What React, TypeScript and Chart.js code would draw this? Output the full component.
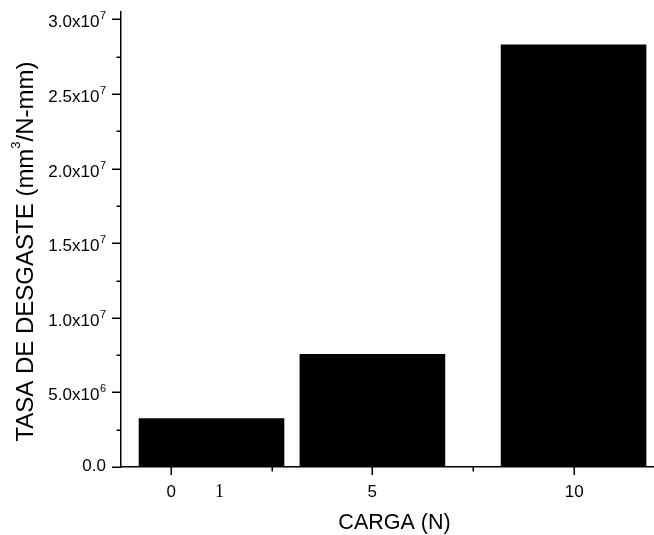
import React, { useEffect, useRef } from "react";
import { Chart, registerables } from "chart.js";

Chart.register(...registerables);

// ---- data ----
const barPositions = [1, 5, 10];
const wearRates = [3.26e6, 7.57e6, 2.832e7];
const xTickValues = [0, 5, 10];
const xMinorTickValues = [2.5, 7.5];
const yTickValues = [0, 5e6, 1e7, 1.5e7, 2e7, 2.5e7, 3e7];
const yMinorTickValues = [2.5e6, 7.5e6, 1.25e7, 1.75e7, 2.25e7, 2.75e7];
const xTitle = "CARGA (N)";
const yTitleParts = ["TASA DE DESGASTE (mm", "3", "/N-mm)"];
const strayLabelText = "1";
const strayLabelX = 1.2;

const SANS = '"Liberation Sans", Arial, sans-serif';
const SERIF = '"Liberation Serif", "Times New Roman", serif';

function splitSci(v: number): [string, string | null] {
  if (v === 0) return ["0.0", null];
  const exp = Math.floor(Math.log10(v) + 1e-9);
  const mant = v / Math.pow(10, exp);
  return [mant.toFixed(1) + "x10", String(exp)];
}

const originAxesPlugin = {
  id: "originAxes",
  afterDraw(chart: any) {
    const { ctx, chartArea } = chart;
    const xs = chart.scales.x;
    const ys = chart.scales.y;
    const left = chartArea.left;
    const bottom = chartArea.bottom;
    ctx.save();
    ctx.strokeStyle = "#000";
    ctx.fillStyle = "#000";
    ctx.lineWidth = 1.5;
    const line = (x1: number, y1: number, x2: number, y2: number) => {
      ctx.beginPath();
      ctx.moveTo(x1, y1);
      ctx.lineTo(x2, y2);
      ctx.stroke();
    };

    // y ticks & labels
    const labelRight = left - 15;
    yTickValues.forEach((v) => {
      const py = Math.round(ys.getPixelForValue(v)) + 0.25;
      line(left - 9, py, left, py);
      const [base, sup] = splitSci(v);
      ctx.textAlign = "right";
      ctx.textBaseline = "alphabetic";
      if (sup) {
        ctx.font = `11px ${SANS}`;
        const supW = ctx.measureText(sup).width;
        ctx.fillText(sup, labelRight, py - 0.5);
        ctx.font = `17px ${SANS}`;
        ctx.fillText(base, labelRight - supW - 0.5, py + 7.5);
      } else {
        ctx.font = `17px ${SANS}`;
        ctx.fillText(base, labelRight, py + 4);
      }
    });
    yMinorTickValues.forEach((v) => {
      const py = Math.round(ys.getPixelForValue(v)) + 0.25;
      line(left - 4.5, py, left, py);
    });

    // x ticks & labels
    xTickValues.forEach((v) => {
      const px = Math.round(xs.getPixelForValue(v)) + 0.25;
      line(px, bottom, px, bottom + 8);
      ctx.font = `17px ${SANS}`;
      ctx.textAlign = "center";
      ctx.textBaseline = "alphabetic";
      ctx.fillText(String(v), px, bottom + 30);
    });
    xMinorTickValues.forEach((v) => {
      const px = Math.round(xs.getPixelForValue(v)) + 0.25;
      line(px, bottom, px, bottom + 4.5);
    });

    // stray label
    ctx.font = `18px ${SERIF}`;
    ctx.textAlign = "center";
    ctx.fillText(strayLabelText, xs.getPixelForValue(strayLabelX), bottom + 30);

    // x title
    ctx.font = `21.5px ${SANS}`;
    ctx.textAlign = "center";
    ctx.fillText(xTitle, (chartArea.left + chartArea.right) / 2 + 7, 528.5);

    // y title (rotated, with superscript)
    ctx.save();
    ctx.translate(33, 251.5);
    ctx.rotate(-Math.PI / 2);
    ctx.textAlign = "left";
    const mainFont = `24px ${SANS}`;
    const supFont = `13px ${SANS}`;
    ctx.font = mainFont;
    const w1 = ctx.measureText(yTitleParts[0]).width;
    const w3 = ctx.measureText(yTitleParts[2]).width;
    ctx.font = supFont;
    const w2 = ctx.measureText(yTitleParts[1]).width;
    const total = w1 + w2 + w3;
    let cx = -total / 2;
    ctx.font = mainFont;
    ctx.fillText(yTitleParts[0], cx, 0);
    cx += w1;
    ctx.font = supFont;
    ctx.fillText(yTitleParts[1], cx, -13);
    cx += w2;
    ctx.font = mainFont;
    ctx.fillText(yTitleParts[2], cx, 0);
    ctx.restore();

    ctx.restore();
  },
};

export default function App() {
  const canvasRef = useRef<HTMLCanvasElement | null>(null);

  useEffect(() => {
    if (!canvasRef.current) return;
    const chart = new Chart(canvasRef.current, {
      type: "bar",
      data: {
        datasets: [
          {
            data: barPositions.map((x, i) => ({ x, y: wearRates[i] })),
            backgroundColor: "#000000",
            borderWidth: 0,
            barPercentage: 0.905,
            categoryPercentage: 1,
          },
        ],
      },
      options: {
        animation: false,
        responsive: false,
        devicePixelRatio: 1,
        layout: { padding: { top: 12, left: 0, right: 0, bottom: 0 } },
        plugins: {
          legend: { display: false },
          tooltip: { enabled: false },
        },
        scales: {
          x: {
            type: "linear",
            offset: false,
            min: -1.25,
            max: 12,
            afterBuildTicks: (scale: any) => {
              scale.ticks = xTickValues.map((v) => ({ value: v }));
            },
            afterFit: (scale: any) => {
              scale.height = 68;
            },
            grid: { display: false },
            border: { display: true, color: "#000", width: 1.5 },
            ticks: { display: false },
          },
          y: {
            type: "linear",
            min: 0,
            max: 3.05e7,
            afterFit: (scale: any) => {
              scale.width = 121;
            },
            grid: { display: false },
            border: { display: true, color: "#000", width: 1.5 },
            ticks: { display: false },
          },
        },
      },
      plugins: [originAxesPlugin],
    } as any);
    return () => chart.destroy();
  }, []);

  return (
    <div style={{ position: "absolute", left: 0, top: 0, width: 654, height: 535, background: "#fff" }}>
      <canvas ref={canvasRef} width={654} height={535} style={{ display: "block" }} />
    </div>
  );
}
